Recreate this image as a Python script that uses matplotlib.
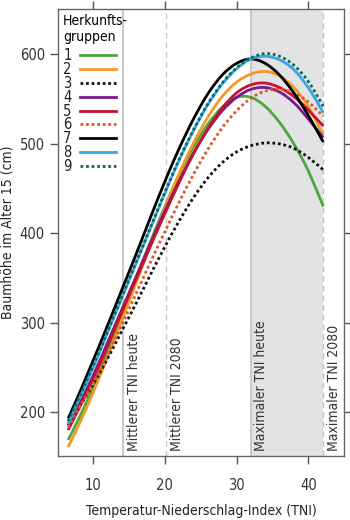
import matplotlib
matplotlib.use("Agg")
import matplotlib.pyplot as plt
from matplotlib.path import Path
from matplotlib.patches import PathPatch
from matplotlib.lines import Line2D

plt.rcParams['font.family'] = ['DejaVu Sans']
plt.rcParams['font.stretch'] = 'condensed'

# TNI positions (x) where values were read
tni = [6.5, 8, 10, 12, 14, 16, 18, 20, 22, 24, 26, 28, 30, 32, 34, 36, 38, 40, 42.1]

g1 = [169, 193, 228, 268, 309, 350, 391, 430, 466, 497, 522, 541, 552, 552, 542, 524, 500, 470, 430]
g2 = [161, 186, 222, 262, 303, 345, 387, 428, 467, 501, 530, 553, 569, 578, 581, 576, 563, 542, 510]
g3 = [185, 205, 231, 260, 291, 322, 354, 385, 414, 440, 462, 479, 491, 498, 501, 500, 495, 485, 471]
g4 = [185, 208, 241, 278, 315, 352, 389, 425, 459, 490, 516, 537, 552, 561, 563, 558, 546, 528, 507]
g5 = [180, 204, 237, 274, 312, 349, 386, 422, 457, 489, 517, 540, 557, 566, 568, 563, 553, 538, 520]
g6 = [183, 204, 232, 264, 298, 333, 368, 402, 435, 466, 494, 518, 537, 551, 559, 561, 557, 547, 531]
g7 = [193, 220, 258, 297, 337, 377, 418, 458, 495, 528, 556, 577, 590, 595, 590, 577, 557, 532, 502]
g8 = [187, 214, 250, 289, 328, 367, 406, 445, 482, 515, 544, 567, 584, 595, 598, 594, 583, 563, 535]
g9 = [190, 216, 252, 290, 329, 368, 407, 446, 483, 516, 545, 568, 585, 596, 601, 598, 588, 570, 542]

groups = ["1", "2", "3", "4", "5", "6", "7", "8", "9"]
series = [g1, g2, g3, g4, g5, g6, g7, g8, g9]
colors = ["#4aa83c", "#f39a22", "#111111", "#7a1a8a", "#c4122f", "#e2552a", "#000000", "#3aa6dd", "#0a6b5a"]
dotted = [False, False, True, False, False, True, False, False, True]

ref_lines = [14.2, 20.2, 32.0, 42.1]
ref_labels = ["Mittlerer TNI heute", "Mittlerer TNI 2080", "Maximaler TNI heute", "Maximaler TNI 2080"]

xticks = [10, 20, 30, 40]
yticks = [200, 300, 400, 500, 600]


def smooth_path(xs, ys):
    """Catmull-Rom curve through the read points, as cubic Bezier segments."""
    n = len(xs)
    verts = [(xs[0], ys[0])]
    codes = [Path.MOVETO]
    for i in range(n - 1):
        x0, y0 = (xs[i - 1], ys[i - 1]) if i > 0 else (xs[i], ys[i])
        x1, y1 = xs[i], ys[i]
        x2, y2 = xs[i + 1], ys[i + 1]
        x3, y3 = (xs[i + 2], ys[i + 2]) if i + 2 < n else (xs[i + 1], ys[i + 1])
        c1 = (x1 + (x2 - x0) / 6.0, y1 + (y2 - y0) / 6.0)
        c2 = (x2 - (x3 - x1) / 6.0, y2 - (y3 - y1) / 6.0)
        verts += [c1, c2, (x2, y2)]
        codes += [Path.CURVE4] * 3
    return Path(verts, codes)


fig = plt.figure(figsize=(3.5, 5.2), dpi=100)
ax = fig.add_axes([0.166, 0.123, 0.817, 0.860])

ax.axvspan(ref_lines[2], ref_lines[3], color="#e3e3e6", zorder=0, lw=0)
ax.axvline(ref_lines[0], color="#c9c9c9", lw=1.4, zorder=1)
ax.axvline(ref_lines[1], color="#c9c9c9", lw=1.0, ls=(0, (4, 3)), zorder=1)
ax.axvline(ref_lines[2], color="#c2c2c2", lw=1.2, zorder=1)
ax.axvline(ref_lines[3], color="#c2c2c2", lw=1.0, ls=(0, (4, 3)), zorder=1)

handles = []
for name, ys, c, d in zip(groups, series, colors, dotted):
    ls = (0, (1, 1)) if d else "-"
    patch = PathPatch(smooth_path(tni, ys), fill=False, edgecolor=c, lw=2.0,
                      ls=ls, zorder=3, capstyle="butt")
    ax.add_patch(patch)
    handles.append(Line2D([], [], color=c, lw=2.0, ls=ls, label=name))

for x, lab in zip(ref_lines, ref_labels):
    ax.text(x + 0.5, 157, lab, rotation=90, ha="left", va="bottom",
            fontsize=10, color="#333333", zorder=4)

ax.set_xlim(5.1, 45.0)
ax.set_ylim(151, 651)
ax.set_xticks(xticks)
ax.set_yticks(yticks)
ax.tick_params(direction="out", length=6, width=1, colors="#555555",
               labelcolor="#333333", labelsize=10.5,
               top=True, right=True, labeltop=False, labelright=False)
ax.tick_params(axis="x", pad=10)
for s in ax.spines.values():
    s.set_color("#666666")
    s.set_linewidth(1.0)

ax.set_xlabel("Temperatur-Niederschlag-Index (TNI)", fontsize=10, color="#222222", labelpad=8)
ax.set_ylabel("Baumhöhe im Alter 15 (cm)", fontsize=10, color="#222222", labelpad=4)

leg = ax.legend(handles=handles, title="Herkunfts-\ngruppen", loc="upper left",
                bbox_to_anchor=(0.0, 1.0),
                frameon=False, markerfirst=False, handlelength=2.5, handletextpad=0.55,
                labelspacing=-0.08, fontsize=10.5, title_fontsize=10, alignment="left",
                borderaxespad=0.1, borderpad=0.25)
leg._legend_box.sep = 3
for t in leg.get_texts():
    t.set_color("#222222")

fig.savefig("out.png", dpi=100)
